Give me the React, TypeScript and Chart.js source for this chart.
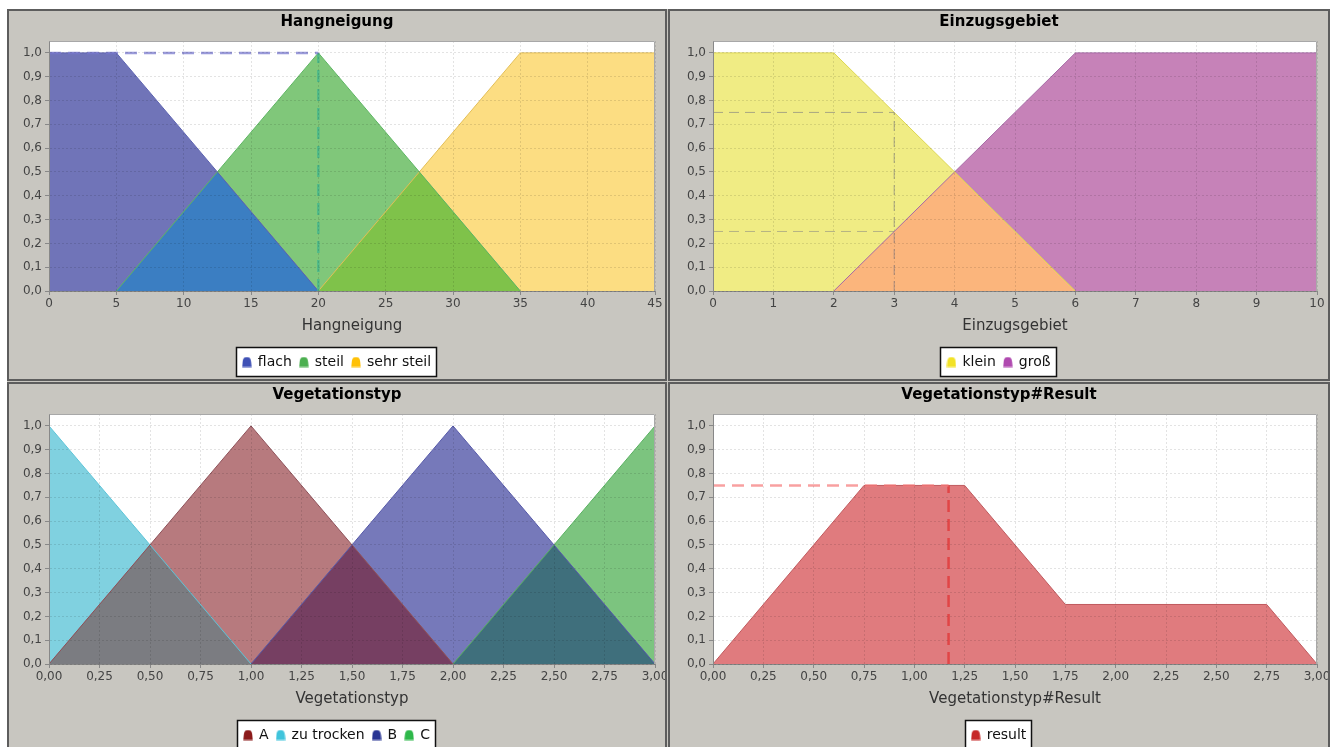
import React, { useEffect, useRef } from 'react';
import { Chart, registerables } from 'chart.js';

Chart.register(...registerables);
Chart.defaults.font.family = '"DejaVu Sans", "Liberation Sans", sans-serif';

type Pt = { x: number; y: number };

// ---------- DATA ----------
// Hangneigung
const flachX = [0, 5, 20];
const flachY = [1, 1, 0];
const steilX = [5, 20, 35];
const steilY = [0, 1, 0];
const sehrSteilX = [20, 35, 45];
const sehrSteilY = [0, 1, 1];
const hangInput = 20;
const hangLevel = 1;

// Einzugsgebiet
const kleinX = [0, 2, 6];
const kleinY = [1, 1, 0];
const grossX = [2, 6, 10];
const grossY = [0, 1, 1];
const einzugInput = 3;
const einzugLevels = [0.75, 0.25];

// Vegetationstyp
const aX = [0, 1, 2];
const aY = [0, 1, 0];
const zuTrockenX = [0, 1];
const zuTrockenY = [1, 0];
const bX = [1, 2, 3];
const bY = [0, 1, 0];
const cX = [2, 3];
const cY = [0, 1];

// Vegetationstyp#Result
const resultX = [0, 0.75, 1.25, 1.75, 2.75, 3];
const resultY = [0, 0.75, 0.75, 0.25, 0.25, 0];
const resultValue = 1.17;
const resultLevel = 0.75;

// ---------- helpers ----------
const pts = (xs: number[], ys: number[]): Pt[] => xs.map((x, i) => ({ x, y: ys[i] }));

function evalAt(p: Pt[], x: number): number {
  if (x < p[0].x || x > p[p.length - 1].x) return 0;
  for (let i = 0; i < p.length - 1; i++) {
    const a = p[i], b = p[i + 1];
    if (x >= a.x && x <= b.x) {
      if (b.x === a.x) return Math.max(a.y, b.y);
      return a.y + ((b.y - a.y) * (x - a.x)) / (b.x - a.x);
    }
  }
  return p[p.length - 1].y;
}

function overlap(p: Pt[], q: Pt[]): Pt[] {
  const lo = Math.max(p[0].x, q[0].x);
  const hi = Math.min(p[p.length - 1].x, q[q.length - 1].x);
  if (hi <= lo) return [];
  const xs = Array.from(new Set([lo, hi, ...p.map((d) => d.x), ...q.map((d) => d.x)]))
    .filter((x) => x >= lo && x <= hi)
    .sort((a, b) => a - b);
  const all: number[] = [];
  for (let i = 0; i < xs.length; i++) {
    all.push(xs[i]);
    if (i < xs.length - 1) {
      const d0 = evalAt(p, xs[i]) - evalAt(q, xs[i]);
      const d1 = evalAt(p, xs[i + 1]) - evalAt(q, xs[i + 1]);
      if (d0 * d1 < 0) all.push(xs[i] + ((xs[i + 1] - xs[i]) * d0) / (d0 - d1));
    }
  }
  return all.map((x) => ({ x, y: Math.min(evalAt(p, x), evalAt(q, x)) }));
}

interface Series { label: string; data: Pt[]; fill: string; line: string; legend: string }
interface Overlap { data: Pt[]; fill: string }
interface RefLine { data: Pt[]; color: string; width: number; dash: number[] }
interface Spec {
  title: string; xTitle: string; xMin: number; xMax: number; xStep: number; xDec: number;
  yAxisWidth: number; rightPad: number; series: Series[]; overlaps: Overlap[]; refs: RefLine[];
}

const flach = pts(flachX, flachY);
const steil = pts(steilX, steilY);
const sehrSteil = pts(sehrSteilX, sehrSteilY);
const klein = pts(kleinX, kleinY);
const gross = pts(grossX, grossY);
const vegA = pts(aX, aY);
const zuTrocken = pts(zuTrockenX, zuTrockenY);
const vegB = pts(bX, bY);
const vegC = pts(cX, cY);
const result = pts(resultX, resultY);

const specHang: Spec = {
  title: 'Hangneigung', xTitle: 'Hangneigung', xMin: 0, xMax: 45, xStep: 5, xDec: 0,
  yAxisWidth: 40, rightPad: 10,
  series: [
    { label: 'flach', data: flach, fill: '#7074B8', line: '#5C62B0', legend: '#3F51B5' },
    { label: 'steil', data: steil, fill: '#80C77A', line: '#5DB562', legend: '#4CAF50' },
    { label: 'sehr steil', data: sehrSteil, fill: '#FCDD82', line: '#E3BE55', legend: '#FFC107' },
  ],
  overlaps: [
    { data: overlap(flach, steil), fill: '#3B7EC2' },
    { data: overlap(steil, sehrSteil), fill: '#7FC24A' },
  ],
  refs: [
    { data: [{ x: 0, y: hangLevel }, { x: hangInput, y: hangLevel }], color: 'rgba(120,120,205,0.75)', width: 2.5, dash: [12, 7] },
    { data: [{ x: hangInput, y: 0 }, { x: hangInput, y: hangLevel }], color: 'rgba(70,185,140,0.85)', width: 2.5, dash: [12, 7] },
  ],
};

const specEinzug: Spec = {
  title: 'Einzugsgebiet', xTitle: 'Einzugsgebiet', xMin: 0, xMax: 10, xStep: 1, xDec: 0,
  yAxisWidth: 43, rightPad: 11,
  series: [
    { label: 'klein', data: klein, fill: '#F0EC84', line: '#DCD650', legend: '#F2E227' },
    { label: 'groß', data: gross, fill: '#C682B8', line: '#A66AA6', legend: '#B04AB0' },
  ],
  overlaps: [{ data: overlap(klein, gross), fill: '#FBB57C' }],
  refs: [
    { data: [{ x: 0, y: einzugLevels[0] }, { x: einzugInput, y: einzugLevels[0] }], color: 'rgba(110,110,130,0.55)', width: 1, dash: [10, 6] },
    { data: [{ x: 0, y: einzugLevels[1] }, { x: einzugInput, y: einzugLevels[1] }], color: 'rgba(110,110,130,0.45)', width: 1, dash: [10, 6] },
    { data: [{ x: einzugInput, y: 0 }, { x: einzugInput, y: einzugLevels[0] }], color: 'rgba(110,110,130,0.55)', width: 1, dash: [10, 6] },
  ],
};

const specVeg: Spec = {
  title: 'Vegetationstyp', xTitle: 'Vegetationstyp', xMin: 0, xMax: 3, xStep: 0.25, xDec: 2,
  yAxisWidth: 40, rightPad: 10,
  series: [
    { label: 'A', data: vegA, fill: '#B77A7E', line: '#8E5058', legend: '#8B1A1A' },
    { label: 'zu trocken', data: zuTrocken, fill: '#80D1E0', line: '#5CC4D8', legend: '#40C4DC' },
    { label: 'B', data: vegB, fill: '#7679BA', line: '#5558A8', legend: '#283593' },
    { label: 'C', data: vegC, fill: '#7CC47F', line: '#58B060', legend: '#2EB84A' },
  ],
  overlaps: [
    { data: overlap(zuTrocken, vegA), fill: '#7B7C81' },
    { data: overlap(vegA, vegB), fill: '#763F62' },
    { data: overlap(vegB, vegC), fill: '#3F6F7C' },
  ],
  refs: [],
};

const specResult: Spec = {
  title: 'Vegetationstyp#Result', xTitle: 'Vegetationstyp#Result', xMin: 0, xMax: 3, xStep: 0.25, xDec: 2,
  yAxisWidth: 43, rightPad: 11,
  series: [{ label: 'result', data: result, fill: '#E07B7E', line: '#C05A5E', legend: '#C62828' }],
  overlaps: [],
  refs: [
    { data: [{ x: 0, y: resultLevel }, { x: resultValue, y: resultLevel }], color: 'rgba(245,120,120,0.7)', width: 2.5, dash: [12, 7] },
    { data: [{ x: resultValue, y: 0 }, { x: resultValue, y: resultLevel }], color: 'rgba(225,60,60,0.85)', width: 2.5, dash: [12, 7] },
  ],
};

const GRAY = '#C8C6C0';

function dome(color: string): HTMLCanvasElement {
  const c = document.createElement('canvas');
  c.width = 10;
  c.height = 11;
  const g = c.getContext('2d')!;
  g.fillStyle = color;
  g.beginPath();
  g.moveTo(0.3, 10.5);
  g.lineTo(0.8, 5);
  g.quadraticCurveTo(1.2, 0.6, 5, 0.6);
  g.quadraticCurveTo(8.8, 0.6, 9.2, 5);
  g.lineTo(9.7, 10.5);
  g.closePath();
  g.fill();
  return c;
}

const decor = {
  id: 'decor',
  beforeDraw(chart: any) {
    const { ctx, chartArea: a } = chart;
    ctx.save();
    ctx.fillStyle = '#ffffff';
    ctx.fillRect(a.left, a.top, a.right - a.left, a.bottom - a.top);
    ctx.restore();
    const lg: any = chart.legend;
    if (!lg || !lg.legendHitBoxes || !lg.legendHitBoxes.length) return;
    let l = Infinity, r = -Infinity, t = Infinity, b = -Infinity;
    lg.legendHitBoxes.forEach((h: any) => {
      l = Math.min(l, h.left);
      r = Math.max(r, h.left + h.width);
      t = Math.min(t, h.top);
      b = Math.max(b, h.top + h.height);
    });
    if (t < lg.top - 1 || b > lg.bottom + 1) return;
    const x0 = Math.round(l - 7) + 0.5;
    const x1 = Math.round(r + 5) + 0.5;
    const y0 = Math.round(t - 8) + 0.5;
    const y1 = Math.round(b + 7) + 0.5;
    ctx.save();
    ctx.fillStyle = '#ffffff';
    ctx.fillRect(x0, y0, x1 - x0, y1 - y0);
    ctx.strokeStyle = '#111';
    ctx.lineWidth = 1.5;
    ctx.strokeRect(x0, y0, x1 - x0, y1 - y0);
    ctx.restore();
  },
  afterDraw(chart: any) {
    const { ctx, chartArea: a } = chart;
    ctx.save();
    ctx.strokeStyle = '#A8A8A8';
    ctx.lineWidth = 1;
    ctx.beginPath();
    ctx.moveTo(Math.round(a.left) + 0.5, Math.round(a.top) + 0.5);
    ctx.lineTo(Math.round(a.right) - 0.5, Math.round(a.top) + 0.5);
    ctx.lineTo(Math.round(a.right) - 0.5, Math.round(a.bottom));
    ctx.stroke();
    ctx.restore();
  },
};

function buildConfig(spec: Spec): any {
  const datasets: any[] = [];
  spec.series.forEach((s) => {
    datasets.push({
      label: s.label, data: s.data, xAxisID: 'x', yAxisID: 'y',
      borderColor: s.line, borderWidth: 1, backgroundColor: s.fill, fill: 'origin',
      pointRadius: 0, pointHoverRadius: 0, tension: 0, order: 2, legendColor: s.legend,
    });
  });
  spec.overlaps.forEach((o) => {
    datasets.push({
      label: '', data: o.data, xAxisID: 'x', yAxisID: 'y',
      borderColor: 'rgba(0,0,0,0)', borderWidth: 1, backgroundColor: o.fill, fill: 'origin',
      pointRadius: 0, pointHoverRadius: 0, tension: 0, order: 1,
    });
  });
  spec.refs.forEach((r) => {
    datasets.push({
      label: '', data: r.data, xAxisID: 'x', yAxisID: 'y',
      borderColor: r.color, borderWidth: r.width, borderDash: r.dash, fill: false,
      pointRadius: 0, pointHoverRadius: 0, tension: 0, order: 0,
    });
  });

  const gridCommon = {
    color: 'rgba(0,0,0,0.11)', z: 1, tickLength: 4, tickColor: '#888', tickWidth: 1, tickBorderDash: [],
  };
  const borderCommon = { display: true, color: '#888', width: 1, dash: [2, 2], z: 1 };

  return {
    type: 'line',
    data: { datasets },
    plugins: [decor],
    options: {
      responsive: false,
      animation: false,
      devicePixelRatio: 1,
      events: [],
      layout: { padding: 0 },
      plugins: {
        title: {
          display: true, text: spec.title, color: '#000',
          font: { size: 15, weight: 'bold' }, padding: { top: 2, bottom: 10 },
        },
        legend: {
          display: true, position: 'bottom', align: 'center',
          labels: {
            usePointStyle: true, pointStyleWidth: 8, padding: 8, color: '#111',
            font: { size: 14 },
            generateLabels: (chart: any) =>
              chart.data.datasets
                .map((ds: any, i: number) => ({ ds, i }))
                .filter(({ ds }: any) => !!ds.legendColor)
                .map(({ ds, i }: any) => ({
                  text: ds.label, fillStyle: ds.legendColor, strokeStyle: ds.legendColor,
                  lineWidth: 0, pointStyle: dome(ds.legendColor), hidden: false,
                  datasetIndex: i, fontColor: '#111',
                })),
          },
        },
        tooltip: { enabled: false },
        filler: { drawTime: 'beforeDatasetsDraw' },
      },
      scales: {
        x: {
          type: 'linear', position: 'bottom', min: spec.xMin, max: spec.xMax,
          afterFit: (s: any) => { s.height = 56; s.paddingLeft = 0; s.paddingRight = 0; },
          ticks: {
            stepSize: spec.xStep, autoSkip: false, maxRotation: 0, padding: 2, color: '#444',
            font: { size: 12 },
            callback: (v: any) => Number(v).toFixed(spec.xDec).replace('.', ','),
          },
          grid: gridCommon,
          border: borderCommon,
          title: {
            display: true, text: spec.xTitle, color: '#333', font: { size: 15 },
            padding: { top: 0, bottom: 12 },
          },
        },
        y: {
          type: 'linear', position: 'left', min: 0, max: 1.05, bounds: 'data',
          afterFit: (s: any) => { s.width = spec.yAxisWidth; s.paddingTop = 0; s.paddingBottom = 0; },
          ticks: {
            stepSize: 0.1, includeBounds: false, padding: 3, color: '#444', font: { size: 12 },
            callback: (v: any) => Number(v).toFixed(1).replace('.', ','),
          },
          grid: gridCommon,
          border: borderCommon,
        },
        yRight: {
          axis: 'y', type: 'linear', position: 'right', display: true,
          grid: { display: false, drawTicks: false },
          border: { display: false },
          ticks: { display: false },
          afterFit: (s: any) => { s.width = spec.rightPad; s.paddingTop = 0; s.paddingBottom = 0; },
        },
      },
    },
  };
}

function ChartPanel({ spec, left, top, width }: { spec: Spec; left: number; top: number; width: number }) {
  const ref = useRef<HTMLCanvasElement>(null);
  const cw = width - 4;
  const ch = 368;
  useEffect(() => {
    if (!ref.current) return;
    const chart = new Chart(ref.current, buildConfig(spec));
    return () => chart.destroy();
  }, [spec]);
  return (
    <div
      style={{
        position: 'absolute', left, top, width, height: 372, boxSizing: 'border-box',
        border: '2px solid #5d5d5d', background: GRAY, overflow: 'hidden',
      }}
    >
      <canvas ref={ref} width={cw} height={ch} style={{ display: 'block', width: cw, height: ch }} />
    </div>
  );
}

export default function App() {
  return (
    <div style={{ position: 'fixed', inset: 0, overflow: 'hidden', background: '#fff' }}>
      <div style={{ position: 'absolute', left: 7, top: 9, width: 1323, height: 760, background: GRAY }} />
      <ChartPanel spec={specHang} left={7} top={9} width={660} />
      <ChartPanel spec={specEinzug} left={668} top={9} width={662} />
      <ChartPanel spec={specVeg} left={7} top={382} width={660} />
      <ChartPanel spec={specResult} left={668} top={382} width={662} />
    </div>
  );
}
